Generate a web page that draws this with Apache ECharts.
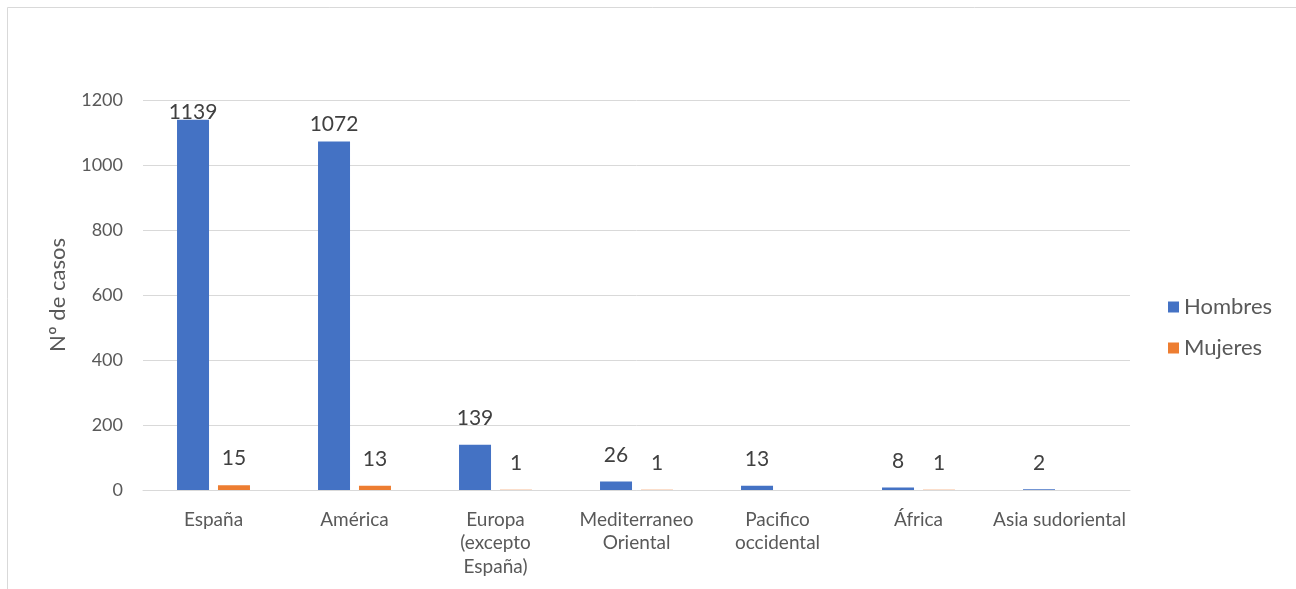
<!DOCTYPE html>
<html>
<head>
<meta charset="utf-8">
<script src="https://cdn.jsdelivr.net/npm/echarts@6/dist/echarts.min.js"></script>
<style>
  html, body { margin: 0; padding: 0; background: #ffffff; }
  #chart { width: 1296px; height: 589px; }
</style>
</head>
<body>
<div id="chart"></div>
<script>
// Regions (categories) and the number of cases per sex
const categories = ['España', 'América', 'Europa (excepto España)', 'Mediterraneo Oriental', 'Pacifico occidental', 'África', 'Asia sudoriental'];
const categoryLabels = ['España', 'América', 'Europa\n(excepto\nEspaña)', 'Mediterraneo\nOriental', 'Pacifico\noccidental', 'África', 'Asia sudoriental'];
const hombres = [1139, 1072, 139, 26, 13, 8, 2];
const mujeres = [15, 13, 1, 1, null, 1, null];
const yTicks = [0, 200, 400, 600, 800, 1000, 1200];

const FONT = 'Lato, "Open Sans", sans-serif';
const TEXT = '#595959';
const LABEL = '#404040';

// Label gap above bars; the tallest bars sit close to the top of the plot
function labelGap(v) {
  if (v > 1100) return -3;
  if (v > 1000) return 7;
  return 16;
}

function toItems(values) {
  return values.map(v => v === null ? null : {
    value: v,
    label: { distance: labelGap(v) }
  });
}

const chart = echarts.init(document.getElementById('chart'), null, { renderer: 'canvas' });

chart.setOption({
  backgroundColor: '#ffffff',
  animation: false,
  graphic: [{
    type: 'rect',
    shape: { x: 7.5, y: 7.5, width: 1400, height: 700 },
    style: { fill: 'none', stroke: '#d9d9d9', lineWidth: 1 },
    silent: true
  }],
  grid: { left: 143, right: 166, top: 100, bottom: 99 },
  legend: {
    orient: 'vertical',
    left: 1163,
    top: 291,
    itemWidth: 11,
    itemHeight: 11,
    itemGap: 19,
    icon: 'rect',
    textStyle: { fontFamily: FONT, fontSize: 22, color: TEXT, padding: [0, 0, 0, 0] },
    data: ['Hombres', 'Mujeres']
  },
  xAxis: {
    type: 'category',
    data: categories,
    axisLine: { show: true, lineStyle: { color: '#d9d9d9', width: 1 } },
    axisTick: { show: false },
    axisLabel: {
      interval: 0,
      margin: 18,
      fontFamily: FONT,
      fontSize: 19,
      lineHeight: 23.5,
      color: TEXT,
      formatter: (v, i) => categoryLabels[i]
    }
  },
  yAxis: {
    type: 'value',
    min: yTicks[0],
    max: yTicks[yTicks.length - 1],
    interval: yTicks[1] - yTicks[0],
    name: 'Nº de casos',
    nameLocation: 'middle',
    nameGap: 74,
    nameTextStyle: { fontFamily: FONT, fontSize: 22, color: TEXT },
    axisLine: { show: false },
    axisTick: { show: false },
    axisLabel: { margin: 20, fontFamily: FONT, fontSize: 18, color: TEXT, formatter: v => String(v) },
    splitLine: { lineStyle: { color: '#d9d9d9', width: 1 } }
  },
  series: [
    {
      name: 'Hombres',
      type: 'bar',
      data: toItems(hombres),
      barWidth: 32,
      barGap: '28%',
      itemStyle: { color: '#4472C4' },
      label: { show: true, position: 'top', fontFamily: FONT, fontSize: 21, color: LABEL }
    },
    {
      name: 'Mujeres',
      type: 'bar',
      data: toItems(mujeres),
      barWidth: 32,
      barGap: '28%',
      itemStyle: { color: '#ED7D31' },
      label: { show: true, position: 'top', fontFamily: FONT, fontSize: 21, color: LABEL }
    }
  ]
});
</script>
</body>
</html>
